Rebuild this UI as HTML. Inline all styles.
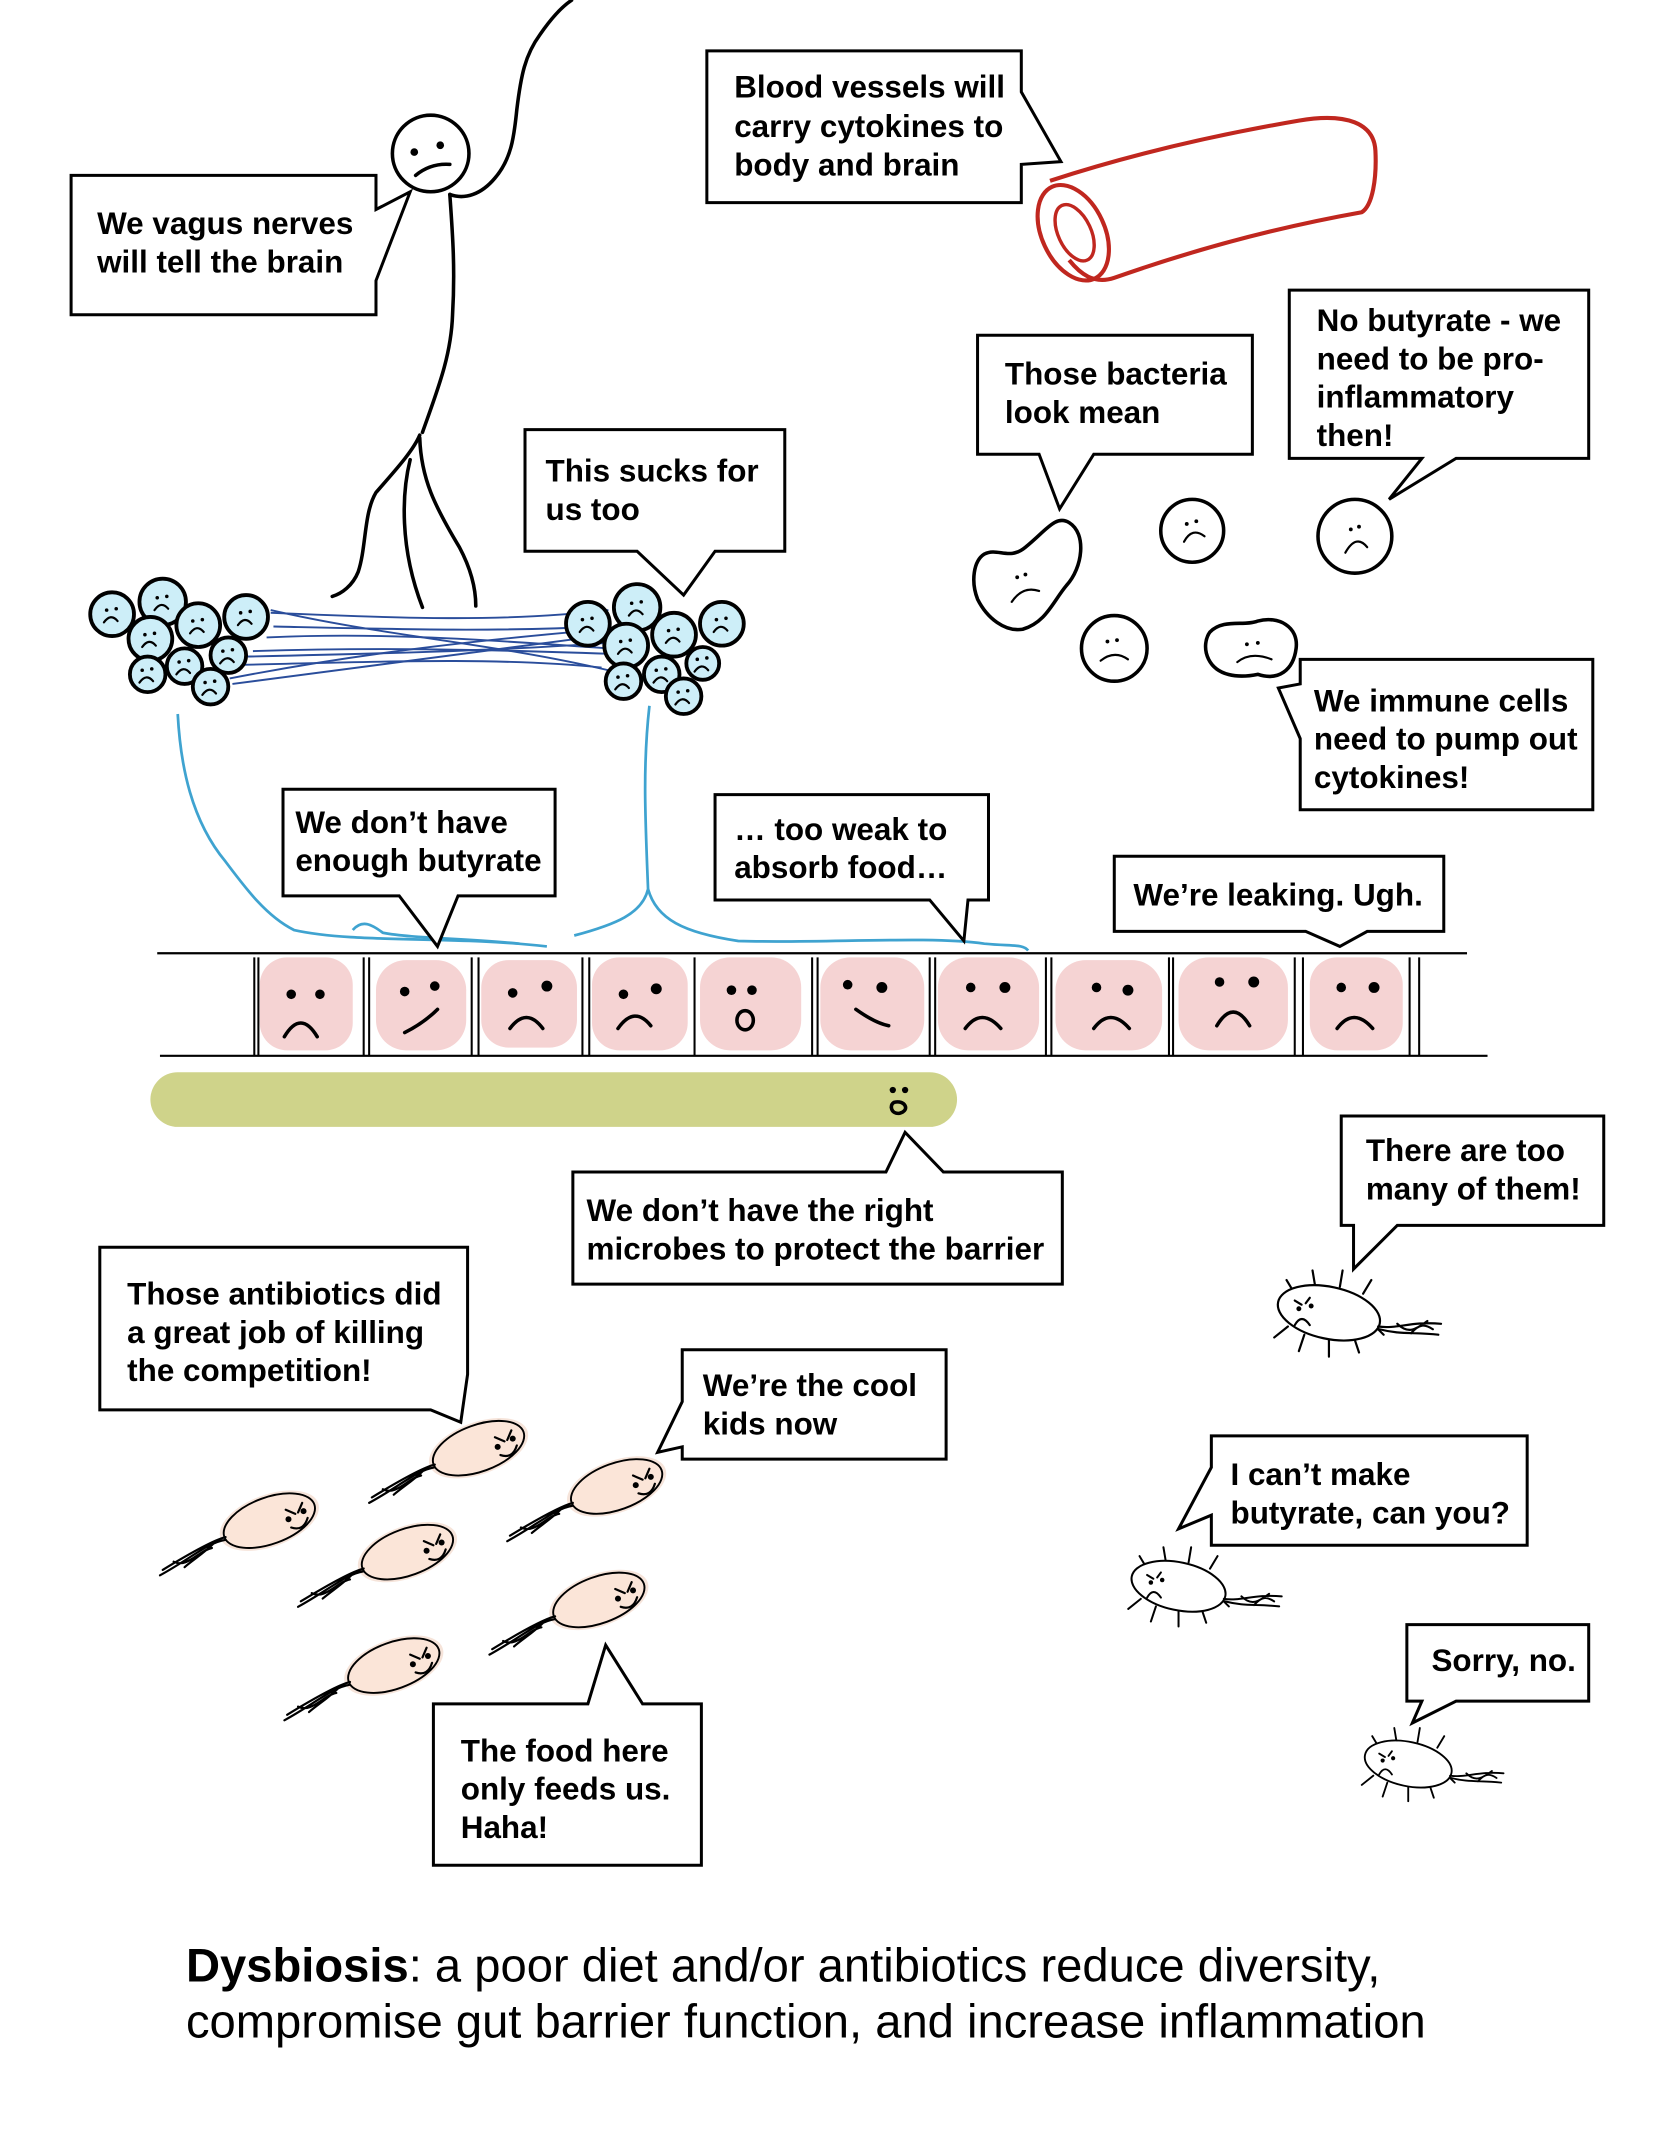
<!DOCTYPE html>
<html><head><meta charset="utf-8"><style>
html,body{margin:0;padding:0;background:#fff}
svg{display:block}
text{font-family:"Liberation Sans",Arial,sans-serif;font-weight:bold;font-size:23px;fill:#000}
.b{fill:#fff;stroke:#000;stroke-width:2.2}
.ln{fill:none;stroke:#000;stroke-width:2.6;stroke-linecap:round}
.th{fill:none;stroke:#000;stroke-width:1.6;stroke-linecap:round}
.bc{fill:#cdeef8;stroke:#000;stroke-width:2.8}
.nv{fill:none;stroke:#2a4d9b;stroke-width:1.4}
.lb{fill:none;stroke:#3fa3d0;stroke-width:2}
</style></head><body>
<svg width="1668" height="2154" viewBox="0 0 1220 1575" xmlns="http://www.w3.org/2000/svg">
<defs>
<g id="pb">
 <ellipse cx="0" cy="0" rx="38" ry="19" transform="rotate(-20)" fill="#f2d9cb" opacity=".7"/>
 <ellipse cx="0" cy="0" rx="35" ry="17" transform="rotate(-20)" fill="#fbe5d8" stroke="#000" stroke-width="1.4"/>
 <path class="th" d="M-32,12 C-40,14 -55,22 -78,36 M-32,14 C-45,16 -58,28 -80,40 M-70,30 C-60,35 -52,22 -42,20 M-62,34 C-55,28 -48,24 -40,16" stroke-width="1"/>
 <path class="th" d="M12,-8 l7,3 M24,-13 l-3,7 M16,5 q9,3 12,-7" stroke-width="1.8"/>
 <circle cx="14" cy="-1" r="2.2"/><circle cx="25" cy="-7" r="2.2"/>
</g>
<g id="gb">
 <path class="th" d="M-25,-14 l-6,-10 M-10,-19 l-2,-12 M8,-19 l2,-12 M25,-14 l6,-10 M-30,10 l-10,8 M-18,16 l-4,12 M0,20 l0,12 M18,17 l4,12 M32,8 l8,8" stroke-width="1.3"/>
 <ellipse cx="0" cy="0" rx="38" ry="19" transform="rotate(12)" fill="#fff" stroke="#000" stroke-width="1.6"/>
 <path class="th" d="M36,10 C50,12 60,6 82,8 M37,12 C52,16 62,14 80,16 M50,8 C58,16 64,12 72,6 M60,15 C66,8 70,8 76,12" stroke-width="1"/>
 <circle cx="-22" cy="-3" r="1.8"/><circle cx="-13" cy="-5" r="1.8"/>
 <path class="th" d="M-25,-9 l5,3 M-14,-11 l-3,4 M-25,9 q5,-9 11,0" stroke-width="1.5"/>
</g>
<g id="sf"><circle cx="-4" cy="-3" r="1.3"/><circle cx="3" cy="-4" r="1.3"/><path class="th" d="M-6,6 q5,-7 10,-1" stroke-width="1.5"/></g>
</defs>

<circle cx="315" cy="112" r="28" class="ln" fill="#fff"/>
<circle cx="303" cy="111" r="2.8"/><circle cx="322" cy="106" r="2.8"/>
<path class="ln" d="M304,128 Q315,119 329,120"/>
<path class="ln" d="M329,142 C331,170 333,196 331,230 C330,260 320,285 309,316"/>
<path class="ln" d="M307,318 C302,330 288,345 275,360 C266,375 268,400 262,418 C258,428 250,434 243,436"/>
<path class="ln" d="M300,336 C294,360 292,400 309,444"/>
<path class="ln" d="M307,320 C308,350 318,370 336,400 C344,415 348,430 348,443"/>
<path class="ln" d="M329,142 C340,146 352,142 362,130 C374,116 376,100 378,80 C381,55 384,40 395,25 C404,12 412,4 418,0"/>

<path class="b" d="M52,128 H275 V153 L300,140 L275,205 V230 H52 Z"/>
<text x="71" y="171">We vagus nerves</text><text x="71" y="199">will tell the brain</text>

<path class="b" d="M517,37 H747 V67 L776,118 L747,120 V148 H517 Z"/>
<text x="537" y="71">Blood vessels will</text><text x="537" y="100">carry cytokines to</text><text x="537" y="128">body and brain</text>

<path d="M768,132 C820,115 880,100 950,88 C985,82 1005,90 1006,110 C1007,130 1004,150 996,155 C940,165 880,180 815,203 C800,208 790,200 782,190" fill="none" stroke="#c0271f" stroke-width="3"/>
<ellipse cx="785" cy="170" rx="23" ry="37" transform="rotate(-25 785 170)" fill="none" stroke="#c0271f" stroke-width="3"/>
<ellipse cx="786" cy="170" rx="12" ry="22" transform="rotate(-25 786 170)" fill="none" stroke="#c0271f" stroke-width="2.5"/>

<g class="nv">
<path d="M198,446 C280,465 360,470 445,490"/>
<path d="M200,458 C290,460 360,462 440,458"/>
<path d="M195,466 C280,462 360,468 445,474"/>
<path d="M185,476 C280,473 360,475 446,478"/>
<path d="M180,480 C270,478 360,476 444,470"/>
<path d="M178,486 C270,484 360,480 440,488"/>
<path d="M168,496 C250,480 330,470 420,462"/>
<path d="M170,500 C250,490 340,478 430,466"/>
<path d="M198,448 C290,452 370,455 445,446"/>
</g>
<g class="bc">
<circle cx="82" cy="449" r="16"/><circle cx="119" cy="440" r="17"/><circle cx="145" cy="457" r="16"/><circle cx="180" cy="451" r="16"/><circle cx="110" cy="467" r="16"/><circle cx="167" cy="479" r="13"/><circle cx="108" cy="493" r="13"/><circle cx="135" cy="487" r="13"/><circle cx="154" cy="502" r="13"/>
<circle cx="430" cy="456" r="16"/><circle cx="466" cy="444" r="17"/><circle cx="493" cy="464" r="16"/><circle cx="528" cy="456" r="16"/><circle cx="458" cy="472" r="16"/><circle cx="456" cy="498" r="13"/><circle cx="484" cy="493" r="13"/><circle cx="514" cy="485" r="12"/><circle cx="500" cy="509" r="13"/>
</g>
<g>
<use href="#sf" x="82" y="449"/><use href="#sf" x="119" y="440"/><use href="#sf" x="145" y="457"/><use href="#sf" x="180" y="451"/><use href="#sf" x="110" y="467"/><use href="#sf" x="167" y="479"/><use href="#sf" x="108" y="493"/><use href="#sf" x="135" y="487"/><use href="#sf" x="154" y="502"/>
<use href="#sf" x="430" y="456"/><use href="#sf" x="466" y="444"/><use href="#sf" x="493" y="464"/><use href="#sf" x="528" y="456"/><use href="#sf" x="458" y="472"/><use href="#sf" x="456" y="498"/><use href="#sf" x="484" y="493"/><use href="#sf" x="514" y="485"/><use href="#sf" x="500" y="509"/>
</g>

<path class="b" d="M384,314 H574 V403 H523 L500,435 L466,403 H384 Z"/>
<text x="399" y="352">This sucks for</text><text x="399" y="380">us too</text>

<path class="lb" d="M130,522 C132,560 140,600 165,630 C180,650 195,670 215,680 C260,690 330,684 400,692"/>
<path class="lb" d="M258,680 C265,672 272,676 280,682 C300,686 340,686 380,690"/>
<path class="lb" d="M475,516 C470,560 472,600 474,650 C470,668 450,676 420,684"/>
<path class="lb" d="M474,650 C480,672 500,682 540,688 C600,690 680,684 720,690 C740,692 748,690 752,695"/>

<path class="b" d="M207,577 H406 V655 H335 L320,692 L292,655 H207 Z"/>
<text x="216" y="609">We don’t have</text><text x="216" y="637">enough butyrate</text>

<path class="b" d="M523,581 H723 V658 H708 L705,688 L680,658 H523 Z"/>
<text x="537" y="614">… too weak to</text><text x="537" y="642">absorb food…</text>

<path class="b" d="M815,626 H1056 V681 H1000 L980,692 L955,681 H815 Z"/>
<text x="829" y="662">We’re leaking. Ugh.</text>

<line x1="115" y1="697" x2="1073" y2="697" stroke="#000" stroke-width="1.6"/>
<line x1="117" y1="772" x2="1088" y2="772" stroke="#000" stroke-width="1.6"/>
<g fill="#f5d3d3">
<rect x="190" y="700" width="68" height="68" rx="20"/><rect x="275" y="702" width="66" height="66" rx="22"/><rect x="352" y="702" width="70" height="64" rx="20"/><rect x="433" y="700" width="70" height="68" rx="20"/><rect x="512" y="700" width="74" height="68" rx="22"/><rect x="600" y="700" width="76" height="68" rx="22"/><rect x="686" y="700" width="74" height="68" rx="22"/><rect x="772" y="702" width="78" height="66" rx="22"/><rect x="862" y="700" width="80" height="68" rx="22"/><rect x="958" y="700" width="68" height="68" rx="20"/>
</g>
<g stroke="#000" stroke-width="1.5">
<line x1="186" y1="700" x2="186" y2="772"/><line x1="189" y1="700" x2="189" y2="772"/>
<line x1="266" y1="700" x2="266" y2="772"/><line x1="270" y1="700" x2="270" y2="772"/>
<line x1="345" y1="700" x2="345" y2="772"/><line x1="350" y1="700" x2="350" y2="772"/>
<line x1="426" y1="700" x2="426" y2="772"/><line x1="431" y1="700" x2="431" y2="772"/>
<line x1="508" y1="700" x2="508" y2="772"/>
<line x1="594" y1="700" x2="594" y2="772"/><line x1="598" y1="700" x2="598" y2="772"/>
<line x1="680" y1="700" x2="680" y2="772"/><line x1="684" y1="700" x2="684" y2="772"/>
<line x1="765" y1="700" x2="765" y2="772"/><line x1="769" y1="700" x2="769" y2="772"/>
<line x1="855" y1="700" x2="855" y2="772"/><line x1="858" y1="700" x2="858" y2="772"/>
<line x1="947" y1="700" x2="947" y2="772"/><line x1="953" y1="700" x2="953" y2="772"/>
<line x1="1031" y1="700" x2="1031" y2="772"/><line x1="1038" y1="700" x2="1038" y2="772"/>
</g>
<g>
<circle cx="213" cy="727" r="3.5"/><circle cx="234" cy="727" r="3.5"/><path class="ln" d="M208,758 Q220,738 232,758"/>
<circle cx="296" cy="725" r="3.5"/><circle cx="318" cy="721" r="3.5"/><path class="ln" d="M296,755 Q310,748 320,738"/>
<circle cx="375" cy="726" r="3.5"/><circle cx="400" cy="721" r="4"/><path class="ln" d="M373,752 Q385,736 397,752"/>
<circle cx="456" cy="727" r="3.5"/><circle cx="480" cy="723" r="4"/><path class="ln" d="M452,752 Q464,735 476,750"/>
<circle cx="535" cy="724" r="3.5"/><circle cx="550" cy="724" r="3.5"/><ellipse cx="545" cy="746" rx="6" ry="7" class="ln"/>
<circle cx="620" cy="720" r="3.5"/><circle cx="645" cy="722" r="4"/><path class="ln" d="M626,738 Q640,748 650,750"/>
<circle cx="710" cy="722" r="3.5"/><circle cx="735" cy="722" r="4"/><path class="ln" d="M706,752 Q718,736 732,752"/>
<circle cx="802" cy="722" r="3.5"/><circle cx="825" cy="724" r="4"/><path class="ln" d="M800,752 Q812,736 826,752"/>
<circle cx="892" cy="718" r="3.5"/><circle cx="917" cy="718" r="4"/><path class="ln" d="M890,750 Q902,730 914,750"/>
<circle cx="981" cy="722" r="3.5"/><circle cx="1005" cy="722" r="4"/><path class="ln" d="M978,752 Q990,736 1004,752"/>
</g>

<rect x="110" y="784" width="590" height="40" rx="20" fill="#cfd38a"/>
<circle cx="653" cy="797" r="2.3"/><circle cx="662" cy="797" r="2.3"/>
<path class="ln" d="M654,806 C662,804 666,812 658,814 C652,815 650,808 654,806" stroke-width="1.8"/>

<path class="b" d="M715,245 H916 V332 H800 L775,372 L760,332 H715 Z"/>
<text x="735" y="281">Those bacteria</text><text x="735" y="309">look mean</text>
<path class="b" d="M943,212 H1162 V335 H1065 L1016,365 L1040,335 H943 Z"/>
<text x="963" y="242">No butyrate - we</text><text x="963" y="270">need to be pro-</text><text x="963" y="298">inflammatory</text><text x="963" y="326">then!</text>
<path class="b" d="M951,482 H1165 V592 H951 V540 L935,503 L951,500 Z"/>
<text x="961" y="520">We immune cells</text><text x="961" y="548">need to pump out</text><text x="961" y="576">cytokines!</text>

<g class="ln">
<circle cx="872" cy="388" r="23"/><circle cx="991" cy="392" r="27"/><circle cx="815" cy="474" r="24"/>
<path d="M720,405 C730,400 738,410 750,400 C765,388 772,376 782,382 C795,390 792,415 780,428 C770,440 765,455 748,460 C735,462 722,452 715,438 C710,425 712,410 720,405 Z"/>
<path d="M885,462 C895,452 910,458 920,454 C935,450 950,458 948,474 C946,490 935,498 920,493 C905,496 890,494 884,482 C880,474 882,466 885,462 Z"/>
</g>
<g>
<circle cx="868" cy="383" r="1.4"/><circle cx="875" cy="381" r="1.4"/><path class="th" d="M866,396 Q872,385 881,392"/>
<circle cx="988" cy="387" r="1.4"/><circle cx="994" cy="385" r="1.4"/><path class="th" d="M984,404 Q992,390 1000,400"/>
<circle cx="810" cy="469" r="1.4"/><circle cx="817" cy="468" r="1.4"/><path class="th" d="M805,483 Q815,475 825,482"/>
<circle cx="744" cy="422" r="1.4"/><circle cx="750" cy="420" r="1.4"/><path class="th" d="M740,440 Q748,428 760,432"/>
<circle cx="912" cy="471" r="1.4"/><circle cx="920" cy="470" r="1.4"/><path class="th" d="M905,484 Q915,476 930,482"/>
</g>

<path class="b" d="M419,857 H648 L662,828 L690,857 H777 V939 H419 Z"/>
<text x="429" y="893">We don’t have the right</text><text x="429" y="921">microbes to protect the barrier</text>

<path class="b" d="M73,912 H342 V1005 L337,1040 L315,1031 H73 Z"/>
<text x="93" y="954">Those antibiotics did</text><text x="93" y="982">a great job of killing</text><text x="93" y="1010">the competition!</text>

<path class="b" d="M499,987 H692 V1067 H499 V1058 L481,1062 L499,1025 Z"/>
<text x="514" y="1021">We’re the cool</text><text x="514" y="1049">kids now</text>

<path class="b" d="M317,1246 H430 L443,1203 L470,1246 H513 V1364 H317 Z"/>
<text x="337" y="1288">The food here</text><text x="337" y="1316">only feeds us.</text><text x="337" y="1344">Haha!</text>

<use href="#pb" x="350" y="1059"/>
<use href="#pb" x="451" y="1087"/>
<use href="#pb" x="197" y="1112"/>
<use href="#pb" x="298" y="1135"/>
<use href="#pb" x="438" y="1170"/>
<use href="#pb" x="288" y="1218"/>

<path class="b" d="M981,816 H1173 V896 H1022 L990,928 L990,896 H981 Z"/>
<text x="999" y="849">There are too</text><text x="999" y="877">many of them!</text>
<path class="b" d="M886,1050 H1117 V1130 H886 V1108 L862,1118 L886,1073 Z"/>
<text x="900" y="1086">I can’t make</text><text x="900" y="1114">butyrate, can you?</text>
<path class="b" d="M1029,1188 H1162 V1244 H1065 L1033,1260 L1040,1244 H1029 Z"/>
<text x="1047" y="1222">Sorry, no.</text>

<use href="#gb" x="972" y="960"/>
<use href="#gb" transform="translate(862 1160) scale(0.92)"/>
<use href="#gb" transform="translate(1030 1290) scale(0.85)"/>

<text x="136" y="1449" style="font-size:34.5px;font-weight:normal"><tspan font-weight="bold">Dysbiosis</tspan>: a poor diet and/or antibiotics reduce diversity,</text>
<text x="136" y="1490" style="font-size:34.5px;font-weight:normal">compromise gut barrier function, and increase inflammation</text>
</svg>
</body></html>
